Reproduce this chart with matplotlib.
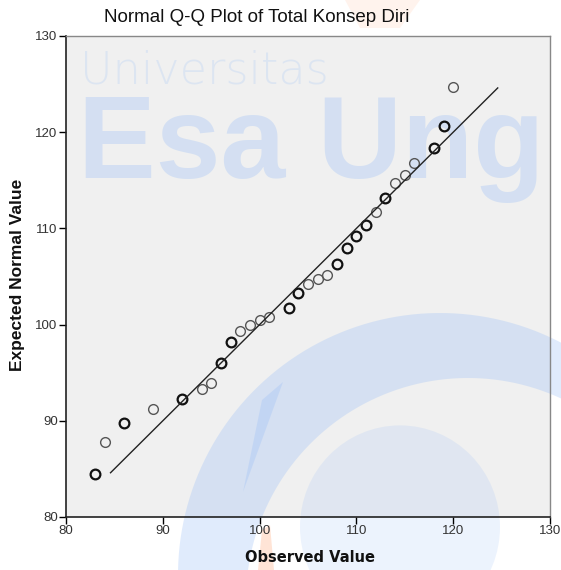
import matplotlib
matplotlib.use('Agg')

import matplotlib.pyplot as plt
from matplotlib.patches import Rectangle, Circle, PathPatch, Polygon
from matplotlib.path import Path
import numpy as np

# Data
observed = [83, 84, 86, 89, 92, 94, 95, 96, 97, 98, 99, 100, 101, 103, 104,
            105, 106, 107, 108, 109, 110, 111, 112, 113, 114, 115, 116, 118, 119, 120]
expected = [84.5, 87.8, 89.8, 91.2, 92.3, 93.3, 93.9, 96.0, 98.2, 99.3, 100.0, 100.5, 100.8, 101.7, 103.3,
            104.2, 104.7, 105.2, 106.3, 108.0, 109.2, 110.4, 111.7, 113.2, 114.7, 115.5, 116.8, 118.4, 120.6, 124.7]
# values that occur more than once are drawn darker in SPSS
repeated = [1, 0, 1, 0, 1, 0, 0, 1, 1, 0, 0, 0, 0, 1, 1,
            0, 0, 0, 1, 1, 1, 1, 0, 1, 0, 0, 0, 1, 1, 0]
line_x = [84.6, 124.6]

ticks = [80, 90, 100, 110, 120, 130]

W, H = 561, 570
fig = plt.figure(figsize=(W / 100, H / 100), dpi=100)
fig.patch.set_facecolor('white')

def fx(x, y):
    return (x / W, 1 - y / H)

# axes box in pixels
left, right, top, bottom = 66, 550, 36, 517
ax = fig.add_axes([left / W, 1 - bottom / H, (right - left) / W, (bottom - top) / H])
ax.set_facecolor('none')
ax.set_zorder(1)

# plot background and watermark drawn behind the axes
fig.add_artist(Rectangle(fx(left, bottom), (right - left) / W, (bottom - top) / H,
                         transform=fig.transFigure, facecolor='#f0f0f0', edgecolor='none', zorder=-3))

wm = '#99bef7'
t = np.linspace(0, 2 * np.pi, 200)
cx, cy, r = 440, 575, 262
cx2, cy2, r2 = 468, 600, 222
outer = np.column_stack([(cx + r * np.cos(t)) / W, 1 - (cy + r * np.sin(t)) / H])
inner = np.column_stack([(cx2 + r2 * np.cos(t[::-1])) / W, 1 - (cy2 + r2 * np.sin(t[::-1])) / H])
crescent = Path.make_compound_path(Path(outer, closed=True), Path(inner, closed=True))
fig.add_artist(PathPatch(crescent, transform=fig.transFigure, facecolor=wm, edgecolor='none',
                         alpha=0.3, zorder=-2))
fig.add_artist(Circle(fx(400, 527), 100 / W, transform=fig.transFigure, facecolor=wm,
                      edgecolor='none', alpha=0.18, zorder=-2))
# thin blade at the tip of the crescent
fig.add_artist(Polygon([fx(283, 382), fx(262, 400), fx(243, 492)],
                       transform=fig.transFigure, facecolor=wm, edgecolor='none', alpha=0.3, zorder=-2))
# orange bits of the logo
orange = '#ffb38a'
fig.add_artist(Polygon([fx(345, 0), fx(420, 0), fx(400, 28), fx(360, 28)], transform=fig.transFigure,
                       facecolor=orange, edgecolor='none', alpha=0.15, zorder=-2))
fig.add_artist(Polygon([fx(262, 530), fx(270, 525), fx(274, 570), fx(258, 570)], transform=fig.transFigure,
                       facecolor=orange, edgecolor='none', alpha=0.35, zorder=-2))

fig.text(*fx(80, 83), 'Universitas', fontsize=32, fontweight='light', color=wm, alpha=0.22,
         family='DejaVu Sans', zorder=-1)
fig.text(*fx(78, 178), 'Esa Ung', fontsize=84, fontweight='bold', color=wm, alpha=0.32,
         family='Liberation Sans', zorder=-1)

# data
dark = [i for i, v in enumerate(repeated) if v]
light = [i for i, v in enumerate(repeated) if not v]
ax.plot([observed[i] for i in light], [expected[i] for i in light], 'o', ms=7,
        mfc='none', mec='#555555', mew=1.0)
ax.plot([observed[i] for i in dark], [expected[i] for i in dark], 'o', ms=7,
        mfc='none', mec='#111111', mew=1.6)
ax.plot(line_x, line_x, color='#222222', lw=1.0)

ax.set_xlim(80, 130)
ax.set_ylim(80, 130)
ax.set_xticks(ticks)
ax.set_yticks(ticks)
ax.tick_params(direction='out', length=5, width=1, labelsize=9.5, labelcolor='#333333', pad=1)
for lab in ax.get_xticklabels() + ax.get_yticklabels():
    lab.set_family('Liberation Sans')
for s in ['left', 'bottom']:
    ax.spines[s].set_color('#222222')
    ax.spines[s].set_linewidth(1.2)
for s in ['top', 'right']:
    ax.spines[s].set_color('#888888')
    ax.spines[s].set_linewidth(1.0)

fig.text(257 / W, 1 - 18 / H, 'Normal Q-Q Plot of Total Konsep Diri', ha='center', va='center',
         fontsize=13.5, family='Liberation Sans', color='#111111')
fig.text(310 / W, 1 - 558 / H, 'Observed Value', ha='center', va='center',
         fontsize=10.5, fontweight='bold', color='#111111')
fig.text(18 / W, 1 - 275 / H, 'Expected Normal Value', ha='center', va='center', rotation=90,
         fontsize=12.5, fontweight='bold', family='Liberation Sans', color='#111111')

plt.savefig('out.png', dpi=100)
plt.close()
